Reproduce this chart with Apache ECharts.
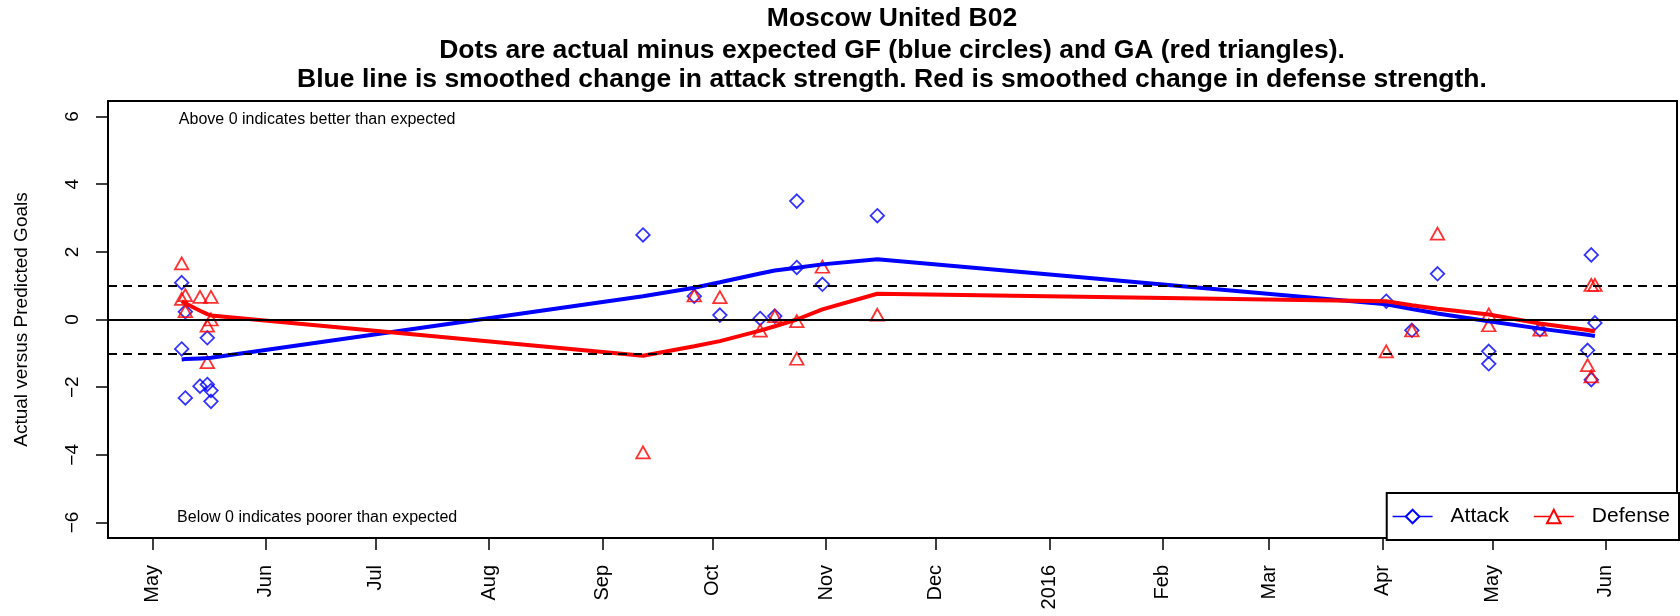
<!DOCTYPE html>
<html>
<head>
<meta charset="utf-8">
<script src="https://cdn.jsdelivr.net/npm/echarts@6/dist/echarts.min.js"></script>
<style>
html,body{margin:0;padding:0;background:#ffffff;}
#chart{width:1680px;height:616px;}
</style>
</head>
<body>
<div id="chart"></div>
<script>
// ---------------- data ----------------
const matchDates = [
  '2015-05-09','2015-05-09','2015-05-10','2015-05-10','2015-05-14','2015-05-16','2015-05-16','2015-05-17','2015-05-17',
  '2015-09-12','2015-09-26','2015-10-03','2015-10-14','2015-10-18','2015-10-24','2015-10-24','2015-10-31','2015-11-15',
  '2016-04-02','2016-04-09','2016-04-16','2016-04-30','2016-04-30','2016-05-14','2016-05-27','2016-05-28','2016-05-28','2016-05-29'
];
const attackDiff = [
  1.09, -0.87, 0.23, -2.32, -1.97, -1.92, -0.54, -2.10, -2.42,
  2.50, 0.69, 0.13, 0.03, 0.10, 3.50, 1.54, 1.04, 3.07,
  0.54, -0.32, 1.35, -0.94, -1.31, -0.30, -0.91, 1.91, -1.78, -0.10
];
const defenseDiff = [
  1.66, 0.61, 0.72, 0.25, 0.67, -0.18, -1.26, 0.67, 0.00,
  -3.93, 0.71, 0.66, -0.33, 0.10, -0.05, -1.16, 1.56, 0.14,
  -0.94, -0.32, 2.54, 0.15, -0.17, -0.30, -1.35, 1.02, -1.68, 1.02
];
const attackSmooth = [
  -1.18, -1.18, -1.17, -1.17, -1.15, -1.14, -1.14, -1.13, -1.13,
  0.69, 0.94, 1.10, 1.36, 1.45, 1.53, 1.53, 1.63, 1.78,
  0.45, 0.31, 0.18, -0.05, -0.05, -0.27, -0.45, -0.47, -0.47, -0.49
];
const defenseSmooth = [
  0.54, 0.54, 0.48, 0.48, 0.26, 0.16, 0.16, 0.12, 0.12,
  -1.07, -0.79, -0.64, -0.33, -0.20, 0.00, 0.00, 0.30, 0.76,
  0.54, 0.42, 0.32, 0.15, 0.15, -0.12, -0.31, -0.33, -0.33, -0.35
];
const tickDates = ['2015-05-01','2015-06-01','2015-07-01','2015-08-01','2015-09-01','2015-10-01','2015-11-01',
  '2015-12-01','2016-01-01','2016-02-01','2016-03-01','2016-04-01','2016-05-01','2016-06-01'];
const tickLabels = ['May','Jun','Jul','Aug','Sep','Oct','Nov','Dec','2016','Feb','Mar','Apr','May','Jun'];
const yTicks = [-6, -4, -2, 0, 2, 4, 6];
const refLines = [0, 1, -1];
const notes = [
  ['Above 0 indicates better than expected', '2015-06-15', 5.92],
  ['Below 0 indicates poorer than expected', '2015-06-15', -5.87]
];
const titleLines = [
  'Moscow United B02',
  'Dots are actual minus expected GF (blue circles) and GA (red triangles).',
  'Blue line is smoothed change in attack strength. Red is smoothed change in defense strength.'
];

// ---------------- helpers ----------------
function ts(s) { const p = s.split('-').map(Number); return new Date(p[0], p[1] - 1, p[2]).getTime(); }
const tickTs = tickDates.map(ts);
function pairs(vals) { return matchDates.map((d, i) => [ts(d), vals[i]]); }
const FONT = 'Liberation Sans, Arial, Helvetica, sans-serif';
const BLUE = '#0000ff', RED = '#ff0000';

const chart = echarts.init(document.getElementById('chart'), null, {renderer: 'canvas'});

const titleTops = [5, 37, 66.5];
const option = {
  animation: false,
  backgroundColor: '#ffffff',
  textStyle: {fontFamily: FONT},
  title: titleLines.map((t, i) => ({
    text: t,
    left: 892,
    top: titleTops[i],
    padding: 0,
    textAlign: 'center',
    textVerticalAlign: 'top',
    textStyle: {fontFamily: FONT, fontSize: 26.5, fontWeight: 'bold', color: '#000', lineHeight: 27}
  })),
  grid: {
    left: 108, right: 3, top: 101, bottom: 78,
    show: true, borderColor: '#000', borderWidth: 2, backgroundColor: 'transparent'
  },
  xAxis: {
    type: 'value',
    min: new Date(2015, 3, 18, 21).getTime(),
    max: new Date(2016, 5, 20, 10).getTime(),
    axisLine: {show: false, onZero: false},
    splitLine: {show: false},
    axisTick: {show: true, customValues: tickTs, length: 12, lineStyle: {color: '#000', width: 1.5}},
    axisLabel: {
      customValues: tickTs,
      rotate: 90,
      margin: 27,
      color: '#000',
      fontFamily: FONT,
      fontSize: 20,
      formatter: function (v) {
        let best = 0, bd = Infinity;
        for (let i = 0; i < tickTs.length; i++) { const d = Math.abs(tickTs[i] - v); if (d < bd) { bd = d; best = i; } }
        return tickLabels[best];
      }
    }
  },
  yAxis: {
    type: 'value',
    min: -6.46, max: 6.46,
    name: 'Actual versus Predicted Goals',
    nameLocation: 'middle',
    nameRotate: 90,
    nameGap: 77,
    nameTextStyle: {fontFamily: FONT, fontSize: 19, color: '#000'},
    axisLine: {show: false, onZero: false},
    splitLine: {show: false},
    axisTick: {show: true, customValues: yTicks, length: 12, lineStyle: {color: '#000', width: 1.5}},
    axisLabel: {
      customValues: yTicks,
      rotate: 90,
      margin: 26,
      color: '#000',
      fontFamily: FONT,
      fontSize: 19,
      formatter: v => String(v).replace('-', '\u2212')
    }
  },
  legend: {
    data: ['Attack', 'Defense'],
    right: 1,
    bottom: 76,
    orient: 'horizontal',
    backgroundColor: '#fff',
    borderColor: '#000',
    borderWidth: 2,
    borderRadius: 0,
    padding: [13, 9, 13, 5],
    itemWidth: 40,
    itemHeight: 17,
    itemGap: 24,
    lineStyle: {width: 1.7},
    textStyle: {fontFamily: FONT, fontSize: 21, color: '#000', padding: [0, 0, 0, 13]},
    selectedMode: false,
    z: 10
  },
  series: [
    {
      name: 'Attack points',
      type: 'scatter',
      data: pairs(attackDiff),
      symbol: 'diamond',
      symbolSize: 13.5,
      itemStyle: {color: 'rgba(0,0,0,0)', borderColor: BLUE, borderWidth: 1.8},
      z: 2,
      markLine: {
        silent: true,
        symbol: 'none',
        label: {show: false},
        data: refLines.map(v => ({
          yAxis: v,
          lineStyle: {color: '#000', width: 2, type: v === 0 ? 'solid' : [9, 6]}
        }))
      },
      markPoint: {
        silent: true,
        symbol: 'circle',
        symbolSize: 0,
        label: {show: true, position: 'inside', color: '#000', fontFamily: FONT, fontSize: 16, formatter: p => p.name},
        data: notes.map(n => ({name: n[0], coord: [ts(n[1]), n[2]]}))
      }
    },
    {
      name: 'Defense points',
      type: 'scatter',
      data: pairs(defenseDiff),
      symbol: 'triangle',
      symbolSize: [13.5, 12],
      itemStyle: {color: 'rgba(0,0,0,0)', borderColor: RED, borderWidth: 1.8},
      z: 2
    },
    {
      name: 'Attack',
      type: 'line',
      data: pairs(attackSmooth),
      symbol: 'emptyDiamond',
      showSymbol: false,
      color: BLUE,
      itemStyle: {color: BLUE},
      lineStyle: {color: BLUE, width: 4},
      z: 3
    },
    {
      name: 'Defense',
      type: 'line',
      data: pairs(defenseSmooth),
      symbol: 'emptyTriangle',
      showSymbol: false,
      color: RED,
      itemStyle: {color: RED},
      lineStyle: {color: RED, width: 4},
      z: 3
    }
  ]
};
chart.setOption(option);
</script>
</body>
</html>
